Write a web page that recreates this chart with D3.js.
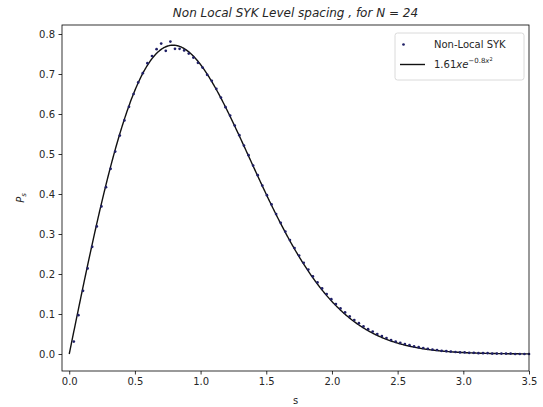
<!DOCTYPE html>
<html>
<head>
<meta charset="utf-8">
<script src="https://cdn.jsdelivr.net/npm/d3@7"></script>
<style>
  html, body { margin: 0; padding: 0; background: #fff; }
  svg { display: block; font-family: "DejaVu Sans", sans-serif; }
</style>
</head>
<body>
<svg id="chart" width="543" height="407"></svg>
<script>
// Level-spacing histogram (bin centres s, probability P_s)
const spacingS = [
  0.035, 0.070, 0.105, 0.140, 0.175, 0.210, 0.245, 0.280, 0.315, 0.350,
  0.385, 0.420, 0.455, 0.490, 0.525, 0.560, 0.595, 0.630, 0.665, 0.700,
  0.735, 0.770, 0.805, 0.840, 0.875, 0.910, 0.945, 0.980, 1.015, 1.050,
  1.085, 1.120, 1.155, 1.190, 1.225, 1.260, 1.295, 1.330, 1.365, 1.400,
  1.435, 1.470, 1.505, 1.540, 1.575, 1.610, 1.645, 1.680, 1.715, 1.750,
  1.785, 1.820, 1.855, 1.890, 1.925, 1.960, 1.995, 2.030, 2.065, 2.100,
  2.135, 2.170, 2.205, 2.240, 2.275, 2.310, 2.345, 2.380, 2.415, 2.450,
  2.485, 2.520, 2.555, 2.590, 2.625, 2.660, 2.695, 2.730, 2.765, 2.800,
  2.835, 2.870, 2.905, 2.940, 2.975, 3.010, 3.045, 3.080, 3.115, 3.150,
  3.185, 3.220, 3.255, 3.290, 3.325, 3.360, 3.395, 3.430, 3.465, 3.500
];
const spacingP = [
  0.031, 0.097, 0.158, 0.214, 0.268, 0.319, 0.369, 0.417, 0.463, 0.506,
  0.546, 0.584, 0.618, 0.650, 0.679, 0.702, 0.727, 0.745, 0.762, 0.776,
  0.758, 0.781, 0.763, 0.763, 0.759, 0.751, 0.741, 0.728, 0.716, 0.698,
  0.683, 0.663, 0.641, 0.617, 0.596, 0.571, 0.547, 0.521, 0.497, 0.471,
  0.447, 0.421, 0.397, 0.374, 0.350, 0.328, 0.306, 0.285, 0.265, 0.246,
  0.228, 0.211, 0.194, 0.179, 0.164, 0.150, 0.137, 0.125, 0.114, 0.104,
  0.094, 0.085, 0.077, 0.069, 0.062, 0.056, 0.050, 0.045, 0.040, 0.035,
  0.031, 0.028, 0.025, 0.022, 0.019, 0.017, 0.015, 0.013, 0.011, 0.010,
  0.008, 0.007, 0.006, 0.005, 0.004, 0.004, 0.003, 0.003, 0.002, 0.002,
  0.002, 0.001, 0.001, 0.001, 0.001, 0.001, 0.000, 0.000, 0.000, 0.000
];

// Fitted Wigner-like surmise: A * s * exp(-B * s^2)
const fitA = 1.61;
const fitB = 0.8;

const xTicks = [0.0, 0.5, 1.0, 1.5, 2.0, 2.5, 3.0, 3.5];
const yTicks = [0.0, 0.1, 0.2, 0.3, 0.4, 0.5, 0.6, 0.7, 0.8];

const titleText = "Non Local SYK Level spacing , for N = 24";
const seriesLabel = "Non-Local SYK";

const svg = d3.select("#chart");
const plot = { left: 62, right: 529, top: 25, bottom: 371 };

const x = d3.scaleLinear().domain([-0.055, 3.5]).range([plot.left, plot.right]);
const y = d3.scaleLinear().domain([-0.0425, 0.8225]).range([plot.bottom, plot.top]);

const dotColor = "#1f1f66";
const textColor = "#262626";

// fitted curve
const curveS = d3.range(0, 3.5001, 0.005);
const line = d3.line()
  .x(s => x(s))
  .y(s => y(fitA * s * Math.exp(-fitB * s * s)));

svg.append("path")
  .datum(curveS)
  .attr("d", line)
  .attr("fill", "none")
  .attr("stroke", "#111")
  .attr("stroke-width", 1.4);

// data points
svg.append("g")
  .selectAll("circle")
  .data(spacingS.map((s, i) => [s, spacingP[i]]))
  .join("circle")
  .attr("cx", d => x(d[0]))
  .attr("cy", d => y(d[1]))
  .attr("r", 1.35)
  .attr("fill", dotColor);

// axes
const xAxis = d3.axisBottom(x)
  .tickValues(xTicks)
  .tickFormat(d3.format(".1f"))
  .tickSizeInner(3.5)
  .tickSizeOuter(0)
  .tickPadding(3.5);
const yAxis = d3.axisLeft(y)
  .tickValues(yTicks)
  .tickFormat(d3.format(".1f"))
  .tickSizeInner(3.5)
  .tickSizeOuter(0)
  .tickPadding(3.5);

const gx = svg.append("g")
  .attr("transform", `translate(0,${plot.bottom})`)
  .call(xAxis);
const gy = svg.append("g")
  .attr("transform", `translate(${plot.left},0)`)
  .call(yAxis);

[gx, gy].forEach(g => {
  g.select(".domain").remove();
  g.selectAll(".tick line").attr("stroke", "#000").attr("stroke-width", 0.8);
  g.selectAll(".tick text")
    .attr("fill", textColor)
    .style("font-size", "10px")
    .style("font-family", "'DejaVu Sans', sans-serif");
});

// frame
svg.append("rect")
  .attr("x", plot.left)
  .attr("y", plot.top)
  .attr("width", plot.right - plot.left)
  .attr("height", plot.bottom - plot.top)
  .attr("fill", "none")
  .attr("stroke", "#000")
  .attr("stroke-width", 0.8);

// title
svg.append("text")
  .attr("x", (plot.left + plot.right) / 2)
  .attr("y", 17)
  .attr("text-anchor", "middle")
  .attr("fill", textColor)
  .style("font-size", "12px")
  .style("font-style", "italic")
  .text(titleText);

// axis labels
svg.append("text")
  .attr("x", (plot.left + plot.right) / 2)
  .attr("y", 404)
  .attr("text-anchor", "middle")
  .attr("fill", textColor)
  .style("font-size", "10px")
  .text("s");

const yl = svg.append("text")
  .attr("transform", `translate(24,${(plot.top + plot.bottom) / 2}) rotate(-90)`)
  .attr("text-anchor", "middle")
  .attr("fill", textColor)
  .style("font-size", "10px");
yl.append("tspan").style("font-style", "italic").text("P");
yl.append("tspan").attr("dy", 2).style("font-size", "7px").style("font-style", "italic").text("s");

// legend
const lg = svg.append("g");
lg.append("rect")
  .attr("x", 395).attr("y", 33)
  .attr("width", 129).attr("height", 47)
  .attr("rx", 2.5)
  .attr("fill", "#fff")
  .attr("fill-opacity", 0.8)
  .attr("stroke", "#d0d0d0")
  .attr("stroke-width", 0.8);

lg.append("circle")
  .attr("cx", 403.5).attr("cy", 44.5)
  .attr("r", 1.35)
  .attr("fill", dotColor);
lg.append("text")
  .attr("x", 434).attr("y", 48)
  .attr("fill", textColor)
  .style("font-size", "10px")
  .text(seriesLabel);

lg.append("line")
  .attr("x1", 400).attr("x2", 425)
  .attr("y1", 64.5).attr("y2", 64.5)
  .attr("stroke", "#111")
  .attr("stroke-width", 1.4);
const ft = lg.append("text")
  .attr("x", 434).attr("y", 68)
  .attr("fill", textColor)
  .style("font-size", "10px");
ft.append("tspan").text(fitA.toFixed(2));
ft.append("tspan").style("font-style", "italic").text("xe");
ft.append("tspan").attr("dy", -5).style("font-size", "7px").text("\u2212" + fitB.toFixed(1));
ft.append("tspan").style("font-size", "7px").style("font-style", "italic").text("x");
ft.append("tspan").attr("dy", -2.5).style("font-size", "5px").text("2");
</script>
</body>
</html>
